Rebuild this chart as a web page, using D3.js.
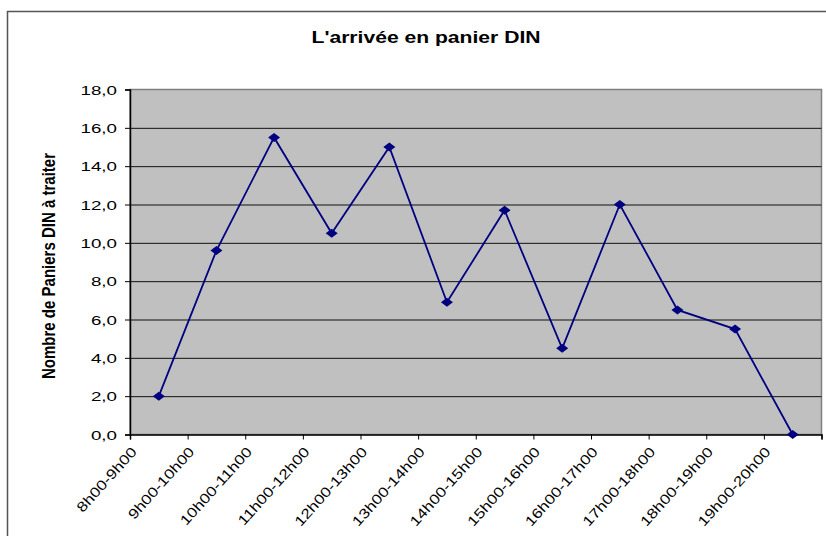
<!DOCTYPE html>
<html>
<head>
<meta charset="utf-8">
<script src="https://cdn.jsdelivr.net/npm/d3@7"></script>
<style>
  body { margin: 0; background: #fff; }
  text { font-family: Arial, "Liberation Sans", sans-serif; fill: #000; }
</style>
</head>
<body>
<script>
var periods = [
  '8h00-9h00',
  '9h00-10h00',
  '10h00-11h00',
  '11h00-12h00',
  '12h00-13h00',
  '13h00-14h00',
  '14h00-15h00',
  '15h00-16h00',
  '16h00-17h00',
  '17h00-18h00',
  '18h00-19h00',
  '19h00-20h00'
];

var paniers = [2.0, 9.6, 15.5, 10.5, 15.0, 6.9, 11.7, 4.5, 12.0, 6.5, 5.5, 0.0];

var yTicks = [0, 2, 4, 6, 8, 10, 12, 14, 16, 18];

const w = 826;
const h = 536;
const padLeft = 130;
const padRight = 821.5;
const padTop = 89.5;
const padBottom = 434.5;

const svg = d3.select('body').append('svg').attr('width', w).attr('height', h);

// chart frame (goes past the right and bottom edge, like the crop)
svg.append('rect').attr('x', 7.5).attr('y', 11.5).attr('width', w).attr('height', h)
  .attr('fill', '#fff').attr('stroke', '#555').attr('stroke-width', 1.5);

const xScale = d3.scaleLinear().domain([0, periods.length]).range([padLeft, padRight]);
const yScale = d3.scaleLinear().domain([0, 18]).range([padBottom, padTop]);

// plot area
svg.append('rect')
  .attr('x', xScale(0)).attr('y', yScale(18))
  .attr('width', xScale(periods.length) - xScale(0)).attr('height', yScale(0) - yScale(18))
  .attr('fill', '#c0c0c0').attr('stroke', '#808080').attr('stroke-width', 1.5);

// gridlines
const grid = svg.append('g').attr('transform', 'translate(' + padLeft + ',0)')
  .call(d3.axisLeft(yScale).tickValues(yTicks.slice(1, -1)).tickSize(-(padRight - padLeft)).tickFormat(''));
grid.select('.domain').remove();
grid.selectAll('line').attr('stroke', '#111').attr('stroke-width', 1);

// title
svg.append('text')
  .attr('transform', 'translate(426,43) scale(1.32,1)')
  .attr('text-anchor', 'middle')
  .style('font-size', '16px').style('font-weight', 'bold')
  .text("L'arrivée en panier DIN");

// y axis title
svg.append('text')
  .attr('transform', 'translate(55,266) rotate(-90) scale(1,1.2)')
  .attr('text-anchor', 'middle')
  .attr('textLength', 226).attr('lengthAdjust', 'spacingAndGlyphs')
  .style('font-size', '15px').style('font-weight', 'bold')
  .text('Nombre de Paniers DIN à traiter');

// axes
const yAxis = d3.axisLeft(yScale).tickValues(yTicks).tickSize(5)
  .tickFormat((d) => d3.format('.1f')(d).replace('.', ','));

const gy = svg.append('g').attr('transform', 'translate(' + padLeft + ',0)').attr('id', 'y-axis').call(yAxis);
gy.select('.domain').attr('stroke', '#000').attr('stroke-width', 1.5);
gy.selectAll('line').attr('stroke', '#000');
gy.selectAll('text')
  .attr('x', 0).attr('dy', '0.36em')
  .attr('transform', 'translate(-13,0) scale(1.5,1)')
  .style('font-size', '12.5px');

const xAxis = d3.axisBottom(xScale).tickValues(d3.range(periods.length + 1)).tickSize(5)
  .tickFormat((d) => periods[d] || '');

const gx = svg.append('g').attr('transform', 'translate(0,' + padBottom + ')').attr('id', 'x-axis').call(xAxis);
gx.select('.domain').attr('stroke', '#000').attr('stroke-width', 1.5);
gx.selectAll('line').attr('stroke', '#000');
gx.selectAll('text')
  .attr('x', 0).attr('y', 0).attr('dy', 0)
  .attr('text-anchor', 'end')
  .attr('transform', 'translate(7,18) rotate(-48) scale(1.22,1)')
  .style('font-size', '14px');

// series
const line = d3.line().x((d, i) => xScale(i + 0.5)).y((d) => yScale(d));

svg.append('path').datum(paniers)
  .attr('d', line)
  .attr('fill', 'none').attr('stroke', '#000080').attr('stroke-width', 1.8);

svg.selectAll('.mark').data(paniers).enter().append('path')
  .attr('class', 'mark')
  .attr('transform', (d, i) => 'translate(' + xScale(i + 0.5) + ',' + yScale(d) + ')')
  .attr('d', 'M0,-4.5L6,0L0,4.5L-6,0Z')
  .attr('fill', '#000080');
</script>
</body>
</html>
